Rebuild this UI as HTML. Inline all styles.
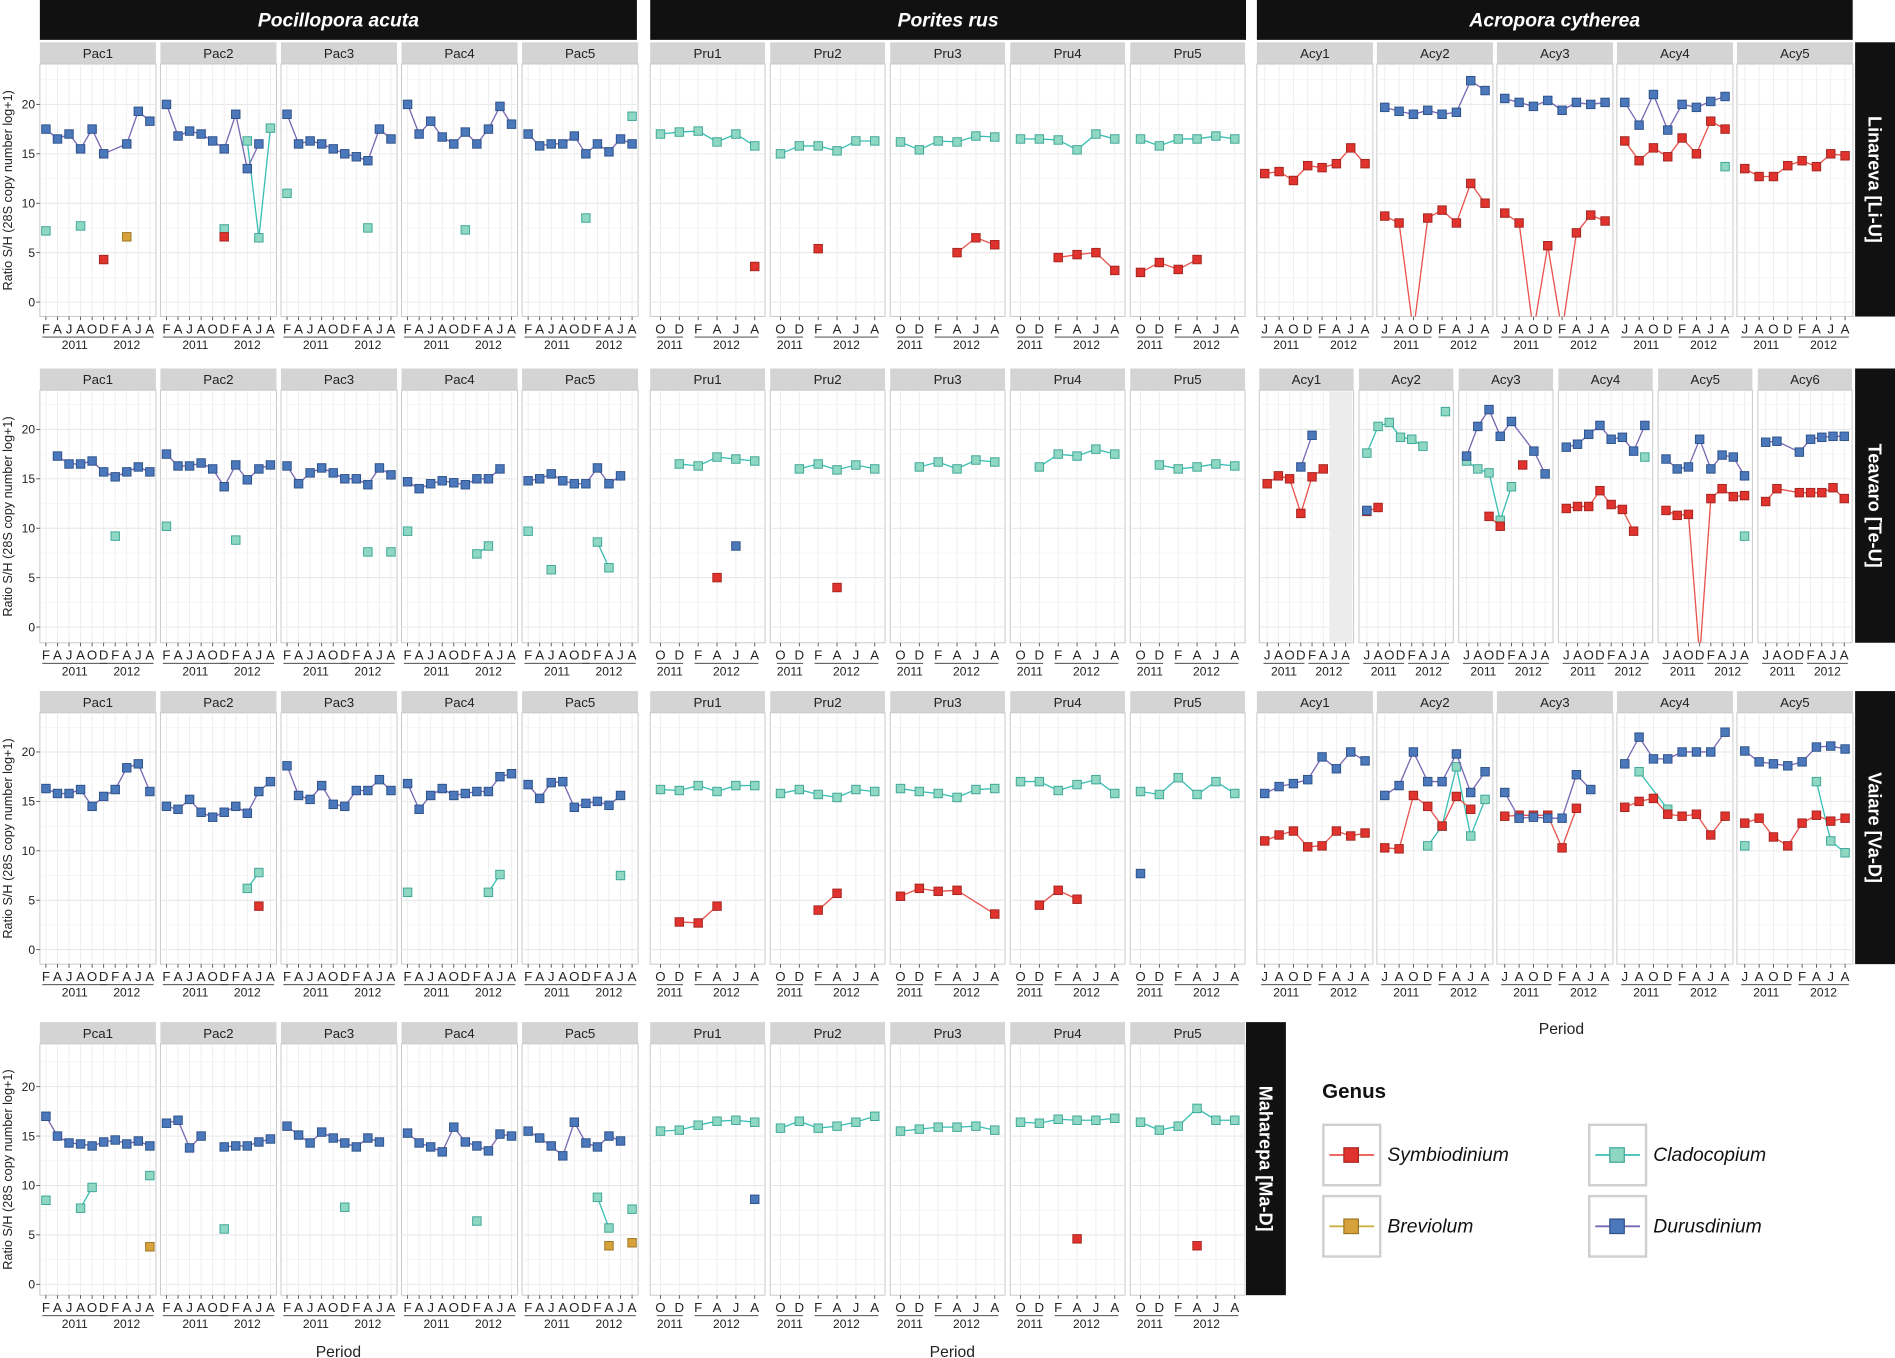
<!DOCTYPE html>
<html><head><meta charset="utf-8"><style>
html,body{margin:0;padding:0;background:#fff;}
svg{display:block;font-family:"Liberation Sans",Arial,sans-serif;}
</style></head><body>
<svg id="s" width="1895" height="1358" viewBox="0 0 1568 1124" preserveAspectRatio="none" xmlns="http://www.w3.org/2000/svg"></svg>
<script>
const S=document.getElementById('s');let h='';
const col={S:['#e0332d','#a52521','#e8554e'],C:['#8ed7c3','#3ea797','#3bbfb5'],D:['#4a78bb','#2f528a','#7a68b3'],B:['#d7a23c','#9c7522','#c9b040']};
const labs={P:['F','A','J','A','O','D','F','A','J','A'],R:['O','D','F','A','J','A'],A:['J','A','O','D','F','A','J','A']};
const mar={P:5,R:8.5,A:6.5};
const yr={P:[0,5,5,9],R:[0,1,2,5],A:[0,3,4,7]};
const rows=[{st:35,pt:53,pb:262,y0:250},{st:305,pt:323,pb:532,y0:519},{st:572,pt:590,pb:798,y0:786},{st:846,pt:864,pb:1072,y0:1063}];
const K=8.18;let cid=0;
function panel(r,x,w,type,name,data,first){
 const R=rows[r];const n=labs[type].length;const m=mar[type];const sp=(w-2*m)/(n-1);
 const X=i=>x+m+i*sp, Y=v=>R.y0-v*K;
 h+=`<rect x="${x}" y="${R.st}" width="${w}" height="${R.pt-R.st}" fill="#d4d4d4"/>`;
 h+=`<text x="${x+w/2}" y="${R.st+13}" font-size="11" text-anchor="middle" fill="#222">${name}</text>`;
 h+=`<rect x="${x}" y="${R.pt}" width="${w}" height="${R.pb-R.pt}" fill="#fff" stroke="#c8c8c8" stroke-width="0.8"/>`;
 for(let v=0;v<=22.5;v+=2.5){const yy=Y(v);if(yy>R.pt&&yy<R.pb)h+=`<line x1="${x}" x2="${x+w}" y1="${yy}" y2="${yy}" stroke="${v%5==0?'#e6e6e6':'#f2f2f2'}" stroke-width="${v%5==0?0.8:0.5}"/>`;}
 for(let i=0;i<n;i++){h+=`<line x1="${X(i)}" x2="${X(i)}" y1="${R.pt}" y2="${R.pb}" stroke="#ececec" stroke-width="0.7"/>`;
  h+=`<line x1="${X(i)}" x2="${X(i)}" y1="${R.pb}" y2="${R.pb+3}" stroke="#444" stroke-width="0.7"/>`;
  h+=`<text x="${X(i)}" y="${R.pb+14}" font-size="11" text-anchor="middle" fill="#222">${labs[type][i]}</text>`;}
 const yg=yr[type];
 h+=`<line x1="${X(yg[0])-3}" x2="${X(yg[1])+3}" y1="${R.pb+17}" y2="${R.pb+17}" stroke="#333" stroke-width="0.7"/>`;
 h+=`<line x1="${X(yg[2])-3}" x2="${X(yg[3])+3}" y1="${R.pb+17}" y2="${R.pb+17}" stroke="#333" stroke-width="0.7"/>`;
 h+=`<text x="${(X(yg[0])+X(yg[1]))/2}" y="${R.pb+27}" font-size="10" text-anchor="middle" fill="#222">2011</text>`;
 h+=`<text x="${(X(yg[2])+X(yg[3]))/2}" y="${R.pb+27}" font-size="10" text-anchor="middle" fill="#222">2012</text>`;
 if(first){for(let v=0;v<=20;v+=5){h+=`<text x="${x-4}" y="${Y(v)+3.5}" font-size="10" text-anchor="end" fill="#222">${v}</text><line x1="${x-3}" x2="${x}" y1="${Y(v)}" y2="${Y(v)}" stroke="#444" stroke-width="0.7"/>`;}
  h+=`<text transform="translate(10,${(R.pt+R.pb)/2}) rotate(-90)" font-size="10.5" text-anchor="middle" fill="#222">Ratio S/H (28S copy number log+1)</text>`;}
 cid++;h+=`<clipPath id="c${cid}"><rect x="${x}" y="${R.pt}" width="${w}" height="${R.pb-R.pt}"/></clipPath><g clip-path="url(#c${cid})">`;
 for(const g of ['C','S','B','D']){const a=data[g];if(!a)continue;
  const segs=[[]];const pts=[];
  for(let i=0;i<a.length;i++){const v=a[i];
   if(v===null){if(segs[segs.length-1].length)segs.push([]);continue;}
   if(v===undefined)continue;
   const p=[X(i),Y(v),v];segs[segs.length-1].push(p);pts.push(p);}
  segs.forEach(sg=>{if(sg.length>1)h+=`<polyline points="${sg.map(p=>p[0].toFixed(1)+','+p[1].toFixed(1)).join(' ')}" fill="none" stroke="${col[g][2]}" stroke-width="1.1"/>`;});
  pts.forEach(p=>{if(p[2]>=0)h+=`<rect x="${p[0]-3.5}" y="${p[1]-3.5}" width="7" height="7" fill="${col[g][0]}" stroke="${col[g][1]}" stroke-width="0.8"/>`;});}
 h+='</g>';
}
const _=null, o=undefined;
function rowP(r,names,ds){names.forEach((nm,i)=>panel(r,33+i*99.75,96,'P',nm,ds[i],i==0));}
function rowR(r,ds){ds.forEach((d,i)=>panel(r,538+i*99.3,95,'R','Pru'+(i+1),d,false));}
function rowA(r,ds){ds.forEach((d,i)=>panel(r,1040+i*99.3,96,'A','Acy'+(i+1),d,false));}
const pn=['Pac1','Pac2','Pac3','Pac4','Pac5'];
// Row 1
rowP(0,pn,[
{D:[17.5,16.5,17,15.5,17.5,15,o,16,19.3,18.3],C:[7.2,_,_,7.7],S:[_,_,_,_,_,4.3],B:[_,_,_,_,_,_,_,6.6]},
{D:[20,16.8,17.3,17,16.3,15.5,19,13.5,16,_],C:[_,_,_,_,_,7.4,_,16.3,6.5,17.6],S:[_,_,_,_,_,6.6]},
{D:[19,16,16.3,16,15.5,15,14.7,14.3,17.5,16.5],C:[11,_,_,_,_,_,_,7.5]},
{D:[20,17,18.3,16.7,16,17.2,16,17.5,19.8,18],C:[_,_,_,_,_,7.3]},
{D:[17,15.8,16,16,16.8,15,16,15.2,16.5,16],C:[_,_,_,_,_,8.5,_,_,_,18.8]}]);
rowR(0,[{C:[17,17.2,17.3,16.2,17,15.8],S:[_,_,_,_,_,3.6]},{C:[15,15.8,15.8,15.3,16.3,16.3],S:[_,_,5.4]},
{C:[16.2,15.4,16.3,16.2,16.8,16.7],S:[_,_,_,5,6.5,5.8]},{C:[16.5,16.5,16.4,15.4,17,16.5],S:[_,_,4.5,4.8,5,3.2]},
{C:[16.5,15.8,16.5,16.5,16.8,16.5],S:[3,4,3.3,4.3]}]);
rowA(0,[{S:[13,13.2,12.3,13.8,13.6,14,15.6,14]},
{D:[19.7,19.3,19,19.4,19,19.2,22.4,21.4],S:[8.7,8,-3,8.5,9.3,8,12,10]},
{D:[20.6,20.2,19.8,20.4,19.4,20.2,20,20.2],S:[9,8,-3,5.7,-3,7,8.8,8.2]},
{D:[20.2,17.9,21,17.4,20,19.7,20.3,20.8],S:[16.3,14.3,15.6,14.7,16.6,15,18.3,17.5],C:[_,_,_,_,_,_,_,13.7]},
{S:[13.5,12.7,12.7,13.8,14.3,13.7,15,14.8]}]);
// Row 2
rowP(1,pn,[
{D:[_,17.3,16.5,16.5,16.8,15.7,15.2,15.7,16.2,15.7],C:[_,_,_,_,_,_,9.2]},
{D:[17.5,16.3,16.3,16.6,16,14.2,16.4,14.9,16,16.4],C:[10.2,_,_,_,_,_,8.8]},
{D:[16.3,14.5,15.6,16.1,15.6,15,15,14.4,16.1,15.4],C:[_,_,_,_,_,_,_,7.6,_,7.6]},
{D:[14.7,14,14.5,14.8,14.6,14.4,15,15,16,_],C:[9.7,_,_,_,_,_,7.4,8.2]},
{D:[14.8,15,15.5,14.8,14.5,14.5,16.1,14.5,15.3,_],C:[9.7,_,5.8,_,_,_,8.6,6]}]);
rowR(1,[{C:[_,16.5,16.3,17.2,17,16.8],S:[_,_,_,5],D:[_,_,_,_,8.2]},{C:[_,16,16.5,15.9,16.4,16],S:[_,_,_,4]},
{C:[_,16.2,16.7,16,16.9,16.7]},{C:[_,16.2,17.5,17.3,18,17.5]},{C:[_,16.4,16,16.2,16.5,16.3]}]);
const a6=[
{S:[14.5,15.3,15,11.5,15.2,16,_,_],D:[_,_,_,16.2,19.4]},
{C:[17.6,20.3,20.7,19.2,19,18.3,_,21.8],S:[11.7,12.1],D:[11.8]},
{D:[17.3,20.3,22,19.3,20.8,o,17.8,15.5],C:[16.8,16,15.6,10.8,14.2],S:[_,_,11.2,10.2,_,16.4]},
{D:[18.2,18.5,19.5,20.4,19,19.2,17.8,20.4],S:[12,12.2,12.2,13.8,12.4,11.9,9.7],C:[_,_,_,_,_,_,_,17.2]},
{D:[17,16,16.2,19,16,17.4,17.2,15.3],S:[11.8,11.3,11.4,-3,13,14,13.2,13.3],C:[_,_,_,_,_,_,_,9.2]},
{D:[18.7,18.8,o,17.7,19,19.2,19.3,19.3],S:[12.7,14,o,13.6,13.6,13.6,14.1,13]}];
a6.forEach((d,i)=>panel(1,1042+i*82.5,78,'A','Acy'+(i+1),d,false));
h+=`<rect x="1100" y="324" width="19" height="207" fill="#ececec"/>`;
// Row 3
rowP(2,pn,[
{D:[16.3,15.8,15.8,16.2,14.5,15.5,16.2,18.4,18.8,16]},
{D:[14.5,14.2,15.2,13.9,13.4,13.9,14.5,13.8,16,17],C:[_,_,_,_,_,_,_,6.2,7.8],S:[_,_,_,_,_,_,_,_,4.4]},
{D:[18.6,15.6,15.2,16.6,14.7,14.5,16.1,16.1,17.2,16.1]},
{D:[16.8,14.2,15.6,16.3,15.6,15.8,16,16,17.5,17.8],C:[5.8,_,_,_,_,_,_,5.8,7.6]},
{D:[16.7,15.3,16.9,17,14.4,14.8,15,14.6,15.6,_],C:[_,_,_,_,_,_,_,_,7.5]}]);
rowR(2,[{C:[16.2,16.1,16.6,16,16.6,16.6],S:[_,2.8,2.7,4.4]},{C:[15.8,16.2,15.7,15.4,16.2,16],S:[_,_,4,5.7]},
{C:[16.3,16,15.8,15.4,16.2,16.3],S:[5.4,6.2,5.9,6,o,3.6]},{C:[17,17,16.1,16.7,17.2,15.8],S:[_,4.5,6,5.1]},
{C:[16,15.7,17.4,15.7,17,15.8],D:[7.7]}]);
rowA(2,[{D:[15.8,16.5,16.8,17.2,19.5,18.3,20,19.1],S:[11,11.6,12,10.4,10.5,12,11.5,11.8]},
{D:[15.6,16.6,20,17,17,19.8,15.9,18],S:[10.3,10.2,15.6,14.5,12.5,15.5,14.2],C:[_,_,_,10.5,12.5,18.5,11.5,15.2]},
{D:[15.9,13.3,13.4,13.3,13.3,17.7,16.2],S:[13.5,13.6,13.6,13.6,10.3,14.3]},
{D:[18.8,21.5,19.3,19.3,20,20,20,22],S:[14.4,15,15.3,13.7,13.5,13.7,11.6,13.5],C:[_,18,o,14.2]},
{D:[20.1,19,18.8,18.6,19,20.5,20.6,20.3],S:[12.8,13.3,11.4,10.5,12.8,13.6,13,13.3],C:[10.5,_,_,_,_,17,11,9.8]}]);
// Row 4
rowP(3,['Pca1','Pac2','Pac3','Pac4','Pac5'],[
{D:[17,15,14.3,14.2,14,14.4,14.6,14.2,14.5,14],C:[8.5,_,_,7.7,9.8,_,_,_,_,11],B:[_,_,_,_,_,_,_,_,_,3.8]},
{D:[16.3,16.6,13.8,15,_,13.9,14,14,14.4,14.7],C:[_,_,_,_,_,5.6]},
{D:[16,15.1,14.3,15.4,14.8,14.3,13.9,14.8,14.4,_],C:[_,_,_,_,_,7.8]},
{D:[15.3,14.3,13.9,13.4,15.9,14.4,14,13.5,15.2,15],C:[_,_,_,_,_,_,6.4]},
{D:[15.5,14.8,14,13,16.4,14.3,13.9,15,14.5,_],C:[_,_,_,_,_,_,8.8,5.7,_,7.6],B:[_,_,_,_,_,_,_,3.9,_,4.2]}]);
rowR(3,[{C:[15.5,15.6,16.1,16.5,16.6,16.4],D:[_,_,_,_,_,8.6]},{C:[15.8,16.5,15.8,16,16.4,17]},
{C:[15.5,15.7,15.9,15.9,16,15.6]},{C:[16.4,16.3,16.7,16.6,16.6,16.8],S:[_,_,_,4.6]},
{C:[16.4,15.6,16,17.8,16.6,16.6],S:[_,_,_,3.9]}]);
// headers
[['Pocillopora acuta',33,527],['Porites rus',538,1031],['Acropora cytherea',1040,1533]].forEach(a=>{
 h+=`<rect x="${a[1]}" y="0" width="${a[2]-a[1]}" height="33" fill="#111"/><text x="${(a[1]+a[2])/2}" y="22" font-size="16" font-weight="bold" font-style="italic" fill="#fff" text-anchor="middle">${a[0]}</text>`;});
[['Linareva [Li-U]',1535,0],['Teavaro [Te-U]',1535,1],['Vaiare [Va-D]',1535,2],['Maharepa [Ma-D]',1031,3]].forEach(a=>{
 const R=rows[a[2]];h+=`<rect x="${a[1]}" y="${R.st}" width="33" height="${R.pb-R.st}" fill="#111"/><text transform="translate(${a[1]+11},${(R.st+R.pb)/2}) rotate(90)" font-size="15" font-weight="bold" fill="#fff" text-anchor="middle">${a[0]}</text>`;});
h+=`<text x="280" y="1123" font-size="13" text-anchor="middle" fill="#222">Period</text><text x="788" y="1123" font-size="13" text-anchor="middle" fill="#222">Period</text><text x="1292" y="856" font-size="13" text-anchor="middle" fill="#222">Period</text>`;
// legend
h+=`<text x="1094" y="909" font-size="17" font-weight="bold" fill="#111">Genus</text>`;
[['S','Symbiodinium',1095,931],['B','Breviolum',1095,990],['C','Cladocopium',1315,931],['D','Durusdinium',1315,990]].forEach(a=>{
 const [g,t,x,y]=a;h+=`<rect x="${x}" y="${y}" width="47" height="50" fill="#fff" stroke="#cfcfcf" stroke-width="2"/><line x1="${x+5}" x2="${x+42}" y1="${y+25}" y2="${y+25}" stroke="${col[g][2]}" stroke-width="1.5"/><rect x="${x+17}" y="${y+19}" width="12" height="12" fill="${col[g][0]}" stroke="${col[g][1]}"/><text x="${x+53}" y="${y+30}" font-size="16" font-style="italic" fill="#111">${t}</text>`;});
S.innerHTML=h;
</script>
</body></html>
